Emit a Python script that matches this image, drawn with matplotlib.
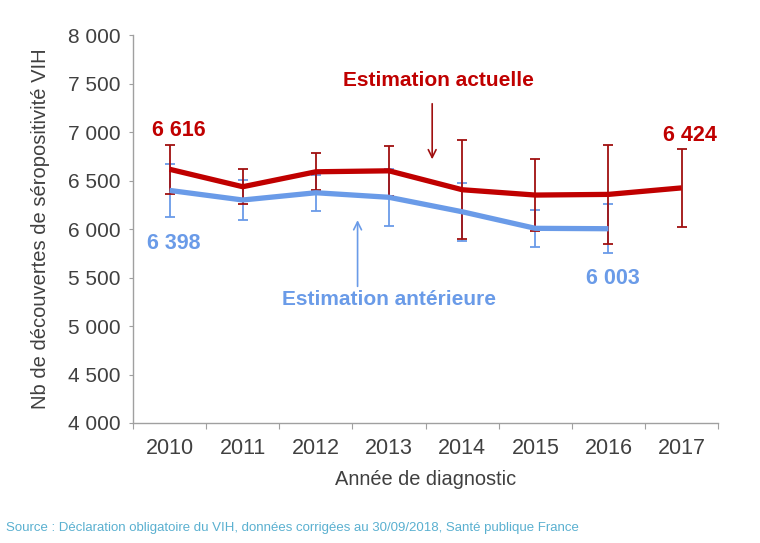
import matplotlib
matplotlib.use("Agg")
import matplotlib.pyplot as plt
import numpy as np

years = [2010, 2011, 2012, 2013, 2014, 2015, 2016, 2017]
actuelle = [6616, 6436, 6590, 6600, 6405, 6350, 6357, 6424]
actuelle_err = [250, 183, 190, 260, 510, 370, 510, 400]
anterieure_years = [2010, 2011, 2012, 2013, 2014, 2015, 2016]
anterieure = [6398, 6299, 6374, 6327, 6178, 6007, 6003]
anterieure_err = [270, 210, 185, 296, 300, 192, 250]
yticks = [4000, 4500, 5000, 5500, 6000, 6500, 7000, 7500, 8000]
ytick_labels = ["4 000", "4 500", "5 000", "5 500", "6 000", "6 500", "7 000", "7 500", "8 000"]

RED = "#C00000"
RED_ERR = "#A01010"
BLUE = "#6A9BE8"
GRAY = "#404040"

plt.rcParams['font.family'] = ['Liberation Sans', 'DejaVu Sans']

fig = plt.figure(figsize=(7.6, 5.43), dpi=100)
ax = fig.add_axes([0.175, 0.221, 0.77, 0.7145])

ax.errorbar(anterieure_years, anterieure, yerr=anterieure_err, fmt='none',
            ecolor=BLUE, elinewidth=1.3, capsize=3.5, capthick=1.3, zorder=2)
ax.errorbar(years, actuelle, yerr=actuelle_err, fmt='none',
            ecolor=RED_ERR, elinewidth=1.3, capsize=3.5, capthick=1.3, zorder=2)
ax.plot(anterieure_years, anterieure, color=BLUE, lw=3.8, zorder=3, solid_capstyle='butt')
ax.plot(years, actuelle, color=RED, lw=3.8, zorder=4, solid_capstyle='butt')

ax.set_xlim(2009.5, 2017.5)
ax.set_ylim(4000, 8000)
ax.set_yticks(yticks)
ax.set_yticklabels(ytick_labels)
ax.set_xticks(np.arange(2009.5, 2018, 1.0))
ax.set_xticklabels([])
ax.set_xticks(years, minor=True)
ax.set_xticklabels([str(y) for y in years], minor=True)
ax.tick_params(axis='x', which='major', length=4, color='#A0A0A0', direction='out')
ax.tick_params(axis='x', which='minor', length=0, pad=11, labelsize=15.5, labelcolor=GRAY)
ax.tick_params(axis='y', length=3, color='#A0A0A0', direction='out', labelsize=15,
               labelcolor=GRAY, pad=6)
for s in ['top', 'right']:
    ax.spines[s].set_visible(False)
for s in ['left', 'bottom']:
    ax.spines[s].set_color('#A0A0A0')
    ax.spines[s].set_linewidth(1.0)

ax.set_xlabel("Année de diagnostic", fontsize=14.4, color=GRAY, labelpad=8)
ax.set_ylabel("Nb de découvertes de séropositivité VIH", fontsize=14.5, color=GRAY, labelpad=13)

# value labels
ax.annotate("6 616", (years[0], actuelle[0]), xytext=(7, 28), textcoords='offset points',
            ha='center', va='center', color=RED, fontsize=15.5, fontweight='bold')
ax.annotate("6 398", (anterieure_years[0], anterieure[0]), xytext=(3, -38), textcoords='offset points',
            ha='center', va='center', color=BLUE, fontsize=15.5, fontweight='bold')
ax.annotate("6 003", (anterieure_years[-1], anterieure[-1]), xytext=(3, -36), textcoords='offset points',
            ha='center', va='center', color=BLUE, fontsize=15.5, fontweight='bold')
ax.annotate("6 424", (years[-1], actuelle[-1]), xytext=(6, 38), textcoords='offset points',
            ha='center', va='center', color=RED, fontsize=15.5, fontweight='bold')

# series labels with arrows
ax.text(2013.67, 7530, "Estimation actuelle", ha='center', va='center', color=RED,
        fontsize=15, fontweight='bold')
ax.annotate("", xy=(2013.59, 6690), xytext=(2013.59, 7320),
            arrowprops=dict(arrowstyle='->', color=RED_ERR, lw=1.2, mutation_scale=14))
ax.text(2013.0, 5270, "Estimation antérieure", ha='center', va='center', color=BLUE,
        fontsize=15, fontweight='bold')
ax.annotate("", xy=(2012.57, 6120), xytext=(2012.57, 5380),
            arrowprops=dict(arrowstyle='->', color=BLUE, lw=1.2, mutation_scale=14))

fig.text(0.008, 0.028, "Source : Déclaration obligatoire du VIH, données corrigées au 30/09/2018, Santé publique France",
         fontsize=9.5, color='#5AB0D0', ha='left', va='center')

fig.savefig("out.png", dpi=100)
